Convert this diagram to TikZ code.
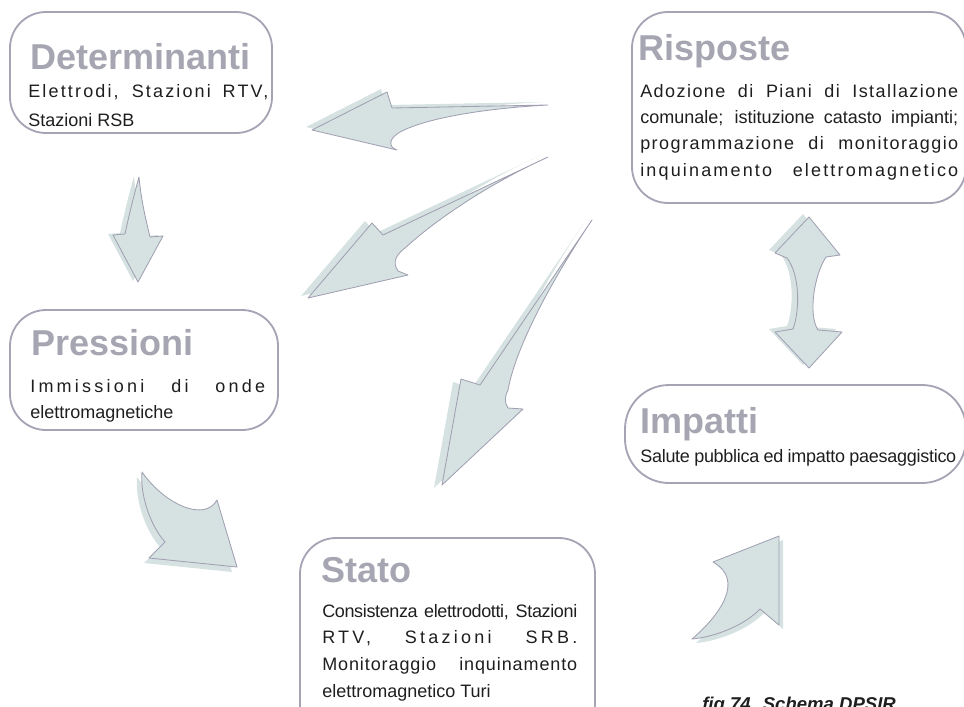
\documentclass[tikz,border=0pt]{standalone}
\usepackage{fontspec}
\setmainfont{Liberation Sans}
\usetikzlibrary{fit}
\definecolor{boxline}{HTML}{A4A4B4}
\definecolor{titlegray}{HTML}{A6A6B2}
\definecolor{arrowfill}{HTML}{D6E2E2}
\definecolor{arrowline}{HTML}{A0A0B2}
\definecolor{bodytext}{HTML}{1E1E1E}
\newlength\pxu
\setlength\pxu{0.025cm}
\newcommand\spreadline[3]{\makebox[#1\pxu][s]{\addfontfeatures{LetterSpace=#2}#3}}
\newcommand\dpsirarrow[2]{%
  \fill[arrowshade,shift={(#1)}] #2;
  \filldraw[arrowbody] #2;}

\begin{document}
\begin{tikzpicture}[x=0.025cm, y=-0.025cm,
  box/.style={draw=boxline, line width=1.3pt, rounded corners=0.9cm, inner sep=0pt},
  title/.style={anchor=base west, inner sep=0pt, text=titlegray, font=\fontsize{25.6}{30}\selectfont\bfseries},
  body/.style={anchor=base west, inner sep=0pt, text=bodytext, font=\fontsize{12.8}{15}\selectfont},
  arrowshade/.style={fill=arrowfill},
  arrowbody/.style={fill=arrowfill, draw=arrowline, line width=0.6pt, line join=round}]
\useasboundingbox (0,0) rectangle (964,706);

\node[box, fit={(10,12) (272,133)}] (det) {};
\node[title] (det-t) at (30,69) {Determinanti};
\node[body] (det-1) at (28,97) {\spreadline{240}{12}{Elettrodi, Stazioni RTV,}};
\node[body] (det-2) at (28,126) {Stazioni RSB};

\node[box, fit={(632,12) (966,203)}] (ris) {};
\node[title] (ris-t) at (638,60) {Risposte};
\node[body] (ris-1) at (640,97) {\spreadline{318}{8}{Adozione di Piani di Istallazione}};
\node[body] (ris-2) at (640,123) {\spreadline{318}{0}{comunale; istituzione catasto impianti;}};
\node[body] (ris-3) at (640,149) {\spreadline{318}{8}{programmazione di monitoraggio}};
\node[body] (ris-4) at (640,176) {\spreadline{318}{12}{inquinamento elettromagnetico}};

\node[box, fit={(10,310) (278,430)}] (pre) {};
\node[title] (pre-t) at (31,355) {Pressioni};
\node[body] (pre-1) at (30,392) {\spreadline{235}{18}{Immissioni di onde}};
\node[body] (pre-2) at (30,418) {elettromagnetiche};

\node[box, rounded corners=1.1cm, fit={(625,385) (966,483)}] (imp) {};
\node[title] (imp-t) at (640,433) {Impatti};
\node[body] (imp-1) at (640,462) {\spreadline{316}{-1.5}{Salute pubblica ed impatto paesaggistico}};

\node[box, fit={(300,538) (595,760)}] (sta) {};
\node[title] (sta-t) at (321,582) {Stato};
\node[body] (sta-1) at (322,617) {\spreadline{255}{-2}{Consistenza elettrodotti, Stazioni}};
\node[body] (sta-2) at (322,643) {\spreadline{255}{18}{RTV, Stazioni SRB.}};
\node[body] (sta-3) at (322,670) {\spreadline{255}{5}{Monitoraggio inquinamento}};
\node[body] (sta-4) at (322,697) {elettromagnetico Turi};

\node[anchor=base west, inner sep=0pt, text=bodytext, font=\fontsize{13.2}{15}\selectfont\bfseries\itshape] (cap) at (702,710) {fig.74. Schema DPSIR};

\dpsirarrow{-6,-3}{(548,105) -- (392,108) -- (387,92) -- (312,130) -- (397,150)
  .. controls (388,147) and (388,138) .. (402,131) .. controls (430,117) and (490,108) .. (548,105) -- cycle}
\dpsirarrow{-7,-2}{(548,157) -- (383,235) -- (372,223) -- (308,298) -- (408,275) -- (398,271)
  .. controls (392,262) and (396,255) .. (405,248) .. controls (430,225) and (480,188) .. (548,157) -- cycle}
\dpsirarrow{-8,3}{(592,220) -- (480,385) -- (461,379) -- (442,485) -- (523,409) -- (508,408)
  .. controls (504,402) and (505,396) .. (508,390) .. controls (516,345) and (555,275) .. (592,220) -- cycle}
\dpsirarrow{-5,-1}{(139,177) .. controls (141,200) and (146,220) .. (150,237) -- (163,236) -- (138,282) -- (113,235) -- (125,234)
  .. controls (129,215) and (134,195) .. (139,177) -- cycle}
\dpsirarrow{-5,5}{(142,472) .. controls (165,505) and (205,522) .. (217,500) -- (237,567) -- (149,558) -- (165,542)
  .. controls (150,525) and (140,495) .. (142,472) -- cycle}
\dpsirarrow{4,4}{(779,536) -- (779,625) -- (760,609) .. controls (745,625) and (715,637) .. (692,639)
  .. controls (720,615) and (745,580) .. (713,562) -- cycle}
\dpsirarrow{-6,-3}{(809,217) -- (840,255) -- (826,257) .. controls (814,275) and (808,315) .. (818,330) -- (842,332) -- (809,368)
  -- (775,332) -- (793,329) .. controls (800,310) and (800,275) .. (787,258) -- (775,253) -- cycle}
\end{tikzpicture}
\end{document}
